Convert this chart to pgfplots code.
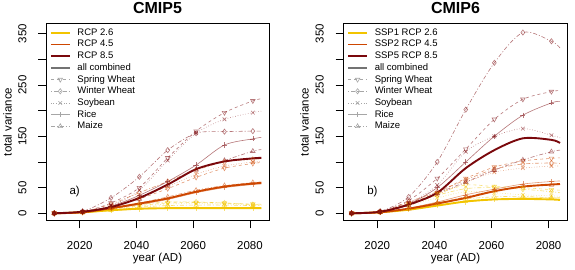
\documentclass[border=0pt]{standalone}
\usepackage{fontspec}
\setmainfont{Liberation Sans}
\usepackage{pgfplots}
\usepackage{pgfplotstable}
\pgfplotsset{compat=1.18}

\definecolor{cA}{RGB}{242,196,0}
\definecolor{cB}{RGB}{205,70,0}
\definecolor{cC}{RGB}{122,8,12}

% columns: comb, sw (spring wheat), ww (winter wheat), soy, rice, maize
% A = RCP 2.6, B = RCP 4.5, C = RCP 8.5
\pgfplotstableread{
year Acomb Asw Aww Asoy Arice Amaize Bcomb Bsw Bww Bsoy Brice Bmaize Ccomb Csw Cww Csoy Crice Cmaize
2011 0 0 0 0 0 0 0 0 0 0 0 0 0 0 0 0 0 0
2021 2 2 2 2 1 2 2 2 3 2 2 2 3 3 4 3 3 3
2031 6 8 9 8 5 6 10 12 18 14 9 10 12 20 30 15 14 13
2041 9 15 17 14 8 12 19 28 40 32 17 20 30 50 71 45 35 28
2051 10 20 22 18 9 15 29 48 62 52 27 32 56 108 123 103 62 55
2061 10 21 22 19 9 16 42 70 84 76 40 45 86 160 156 156 94 85
2071 10 20 20 18 9 16 52 88 100 92 50 54 101 196 159 183 133 103
2081 10 18 17 16 9 15 58 97 105 100 56 60 107 219 160 196 145 121
2084 10 18 17 16 9 15 59 99 106 101 57 61 108 223 160 199 148 124
}\cmipfive

\pgfplotstableread{
year Acomb Asw Aww Asoy Arice Amaize Bcomb Bsw Bww Bsoy Brice Bmaize Ccomb Csw Cww Csoy Crice Cmaize
2011 0 0 0 0 0 0 0 0 0 0 0 0 0 0 0 0 0 0
2021 2 3 3 2 2 2 2 3 3 3 2 2 3 3 4 3 3 3
2031 7 18 17 15 8 10 9 20 22 18 10 9 17 25 32 20 18 15
2041 15 38 35 30 16 20 19 40 42 36 22 20 40 68 100 55 50 39
2051 23 55 48 42 22 28 30 68 65 60 36 32 88 125 202 120 100 61
2061 27 52 50 40 27 32 43 90 86 80 47 44 123 183 293 150 150 84
2071 28 50 47 36 30 33 52 102 96 88 57 52 146 222 352 165 191 104
2081 27 46 42 34 30 30 56 107 98 92 62 55 143 237 335 152 215 120
2084 26 45 40 33 30 30 57 108 97 92 63 56 137 239 322 147 218 123
}\cmipsix

\pgfplotsset{
  sw/.style={dashed, mark=triangle, mark options={solid, rotate=180}},
  ww/.style={dash pattern=on 1pt off 2pt on 4pt off 2pt, mark=diamond, mark options={solid}},
  soy/.style={dotted, mark=x, mark options={solid}},
  rice/.style={solid, mark=+},
  maize/.style={dash pattern=on 4pt off 2pt on 1pt off 2pt, mark=triangle, mark options={solid}},
  crop/.style={color=#1, opacity=0.55, line width=0.6pt, mark size=2.6pt, smooth, mark indices={1,2,3,4,5,6,7,8}, forget plot},
  comb/.style={color=#1, line width=1.9pt, smooth, no marks, forget plot},
  panel/.style={
    scale only axis, width=223pt, height=197.4pt, anchor=south west,
    xmin=2008.1, xmax=2086.7, ymin=-14.4, ymax=370,
    xtick={2020,2040,2060,2080}, xticklabels={2020,2040,2060,2080},
    ytick={0,50,100,150,200,250,300,350}, yticklabels={0,50,,150,,250,,350},
    tick align=outside, xtick pos=bottom, ytick pos=left, major tick length=7.7pt,
    tick style={black, line width=0.6pt},
    axis line style={line width=0.6pt},
    /pgf/number format/assume math mode=true,
    xticklabel style={font=\fontsize{11.5}{13}\selectfont, anchor=center, yshift=-17pt},
    yticklabel style={font=\fontsize{11.5}{13}\selectfont, rotate=90, anchor=center},
    yticklabel shift=16pt,
    every axis x label/.style={at={(axis description cs:0.5,-0.1937)}, anchor=center, font=\fontsize{11.5}{13}\selectfont},
    every axis y label/.style={at={(axis description cs:-0.1726,0.5)}, anchor=center, rotate=90, font=\fontsize{11.5}{13}\selectfont},
    xlabel={year (AD)}, ylabel={total variance},
    every axis title/.style={at={(axis description cs:0.5,1.0785)}, anchor=center, font=\fontsize{16}{18}\selectfont\bfseries},
    legend image code/.code={%
      \draw[mark repeat=2, mark phase=2, #1] plot coordinates {(0pt,0pt) (9.5pt,0pt) (19pt,0pt)};},
    legend style={at={(axis description cs:0.003,0.99)}, anchor=north west, draw=none, fill=none,
      font=\fontsize{9.5}{11}\selectfont, row sep=1.1pt,
      nodes={inner sep=0.8pt, text height=7pt, text depth=2pt},
      /tikz/every odd column/.append style={column sep=6pt}},
    legend cell align=left,
  },
}

\newcommand{\scen}[3]{%
  \addplot[crop=#3, sw] table[x=year, y=#2sw] {#1};
  \addplot[crop=#3, ww] table[x=year, y=#2ww] {#1};
  \addplot[crop=#3, soy] table[x=year, y=#2soy] {#1};
  \addplot[crop=#3, rice] table[x=year, y=#2rice] {#1};
  \addplot[crop=#3, maize] table[x=year, y=#2maize] {#1};
}
\newcommand{\legendbits}[3]{%
  \addlegendimage{cA, line width=1.8pt}\addlegendentry{#1}
  \addlegendimage{cB, line width=1.8pt}\addlegendentry{#2}
  \addlegendimage{cC, line width=1.8pt}\addlegendentry{#3}
  \addlegendimage{black!55, line width=1.8pt}\addlegendentry{all combined}
  \addlegendimage{black!35, line width=0.6pt, mark size=2.6pt, sw}\addlegendentry{Spring Wheat}
  \addlegendimage{black!35, line width=0.6pt, mark size=2.6pt, ww}\addlegendentry{Winter Wheat}
  \addlegendimage{black!35, line width=0.6pt, mark size=2.6pt, soy}\addlegendentry{Soybean}
  \addlegendimage{black!35, line width=0.6pt, mark size=2.6pt, rice}\addlegendentry{Rice}
  \addlegendimage{black!35, line width=0.6pt, mark size=2.6pt, maize}\addlegendentry{Maize}
}

\begin{document}
\begin{tikzpicture}
\useasboundingbox (0,0) rectangle (575pt,270pt);
\begin{axis}[panel, at={(46pt,49.3pt)}, title={CMIP5}]
  \legendbits{RCP 2.6}{RCP 4.5}{RCP 8.5}
  \scen{\cmipfive}{A}{cA}
  \scen{\cmipfive}{B}{cB}
  \scen{\cmipfive}{C}{cC}
  \addplot[comb=cA] table[x=year, y=Acomb] {\cmipfive};
  \addplot[comb=cB] table[x=year, y=Bcomb] {\cmipfive};
  \addplot[comb=cC] table[x=year, y=Ccomb] {\cmipfive};
  \node[font=\fontsize{11.5}{13}\selectfont] at (axis cs:2018.2,42) {a)};
\end{axis}
\begin{axis}[panel, at={(343.3pt,49.3pt)}, width=224.4pt, title={CMIP6}]
  \legendbits{SSP1 RCP 2.6}{SSP2 RCP 4.5}{SSP5 RCP 8.5}
  \scen{\cmipsix}{A}{cA}
  \scen{\cmipsix}{B}{cB}
  \scen{\cmipsix}{C}{cC}
  \addplot[comb=cA] table[x=year, y=Acomb] {\cmipsix};
  \addplot[comb=cB] table[x=year, y=Bcomb] {\cmipsix};
  \addplot[comb=cC] table[x=year, y=Ccomb] {\cmipsix};
  \node[font=\fontsize{11.5}{13}\selectfont] at (axis cs:2018.3,42) {b)};
\end{axis}
\end{tikzpicture}
\end{document}
